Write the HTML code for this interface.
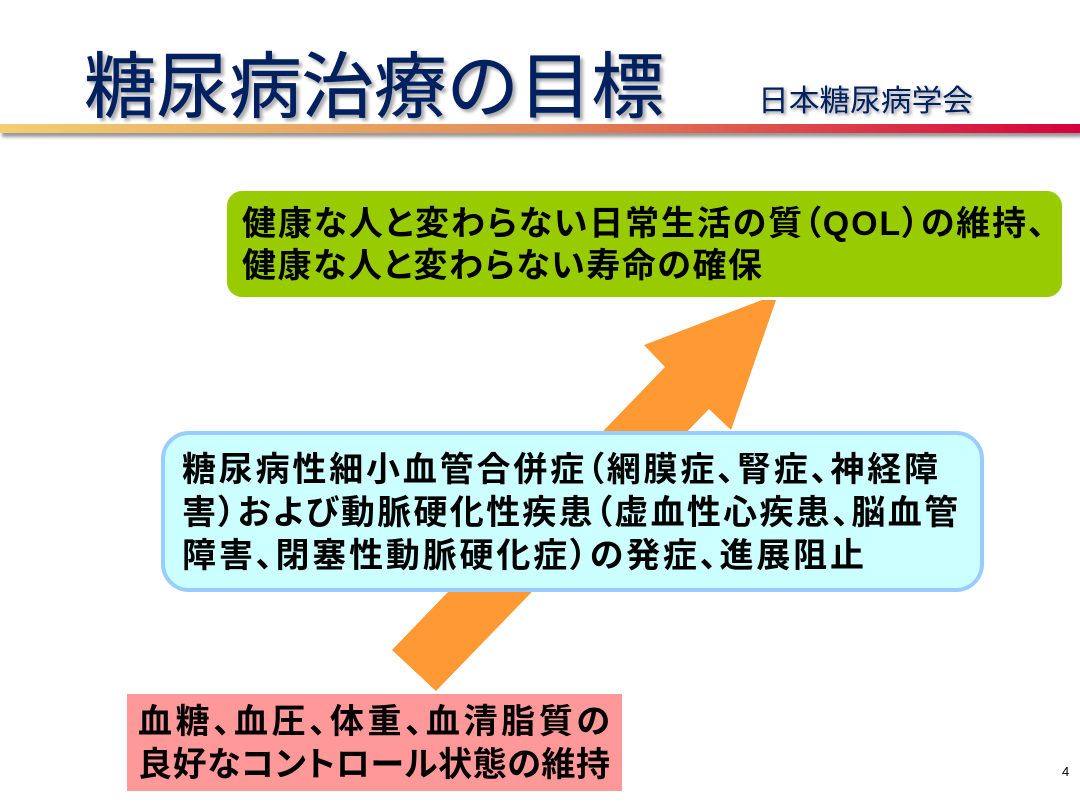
<!DOCTYPE html>
<html lang="ja">
<head>
<meta charset="utf-8">
<style>
html,body{margin:0;padding:0;background:#fff;width:1080px;height:810px;overflow:hidden}
svg{display:block}
text{font-family:"Liberation Sans","Noto Sans CJK JP",sans-serif}
.b{font-weight:700;font-size:34px;fill:#000;font-feature-settings:"palt"}
.t{stroke-linejoin:round}
</style>
</head>
<body>
<svg width="1080" height="810" viewBox="0 0 1080 810" xmlns="http://www.w3.org/2000/svg">
<defs>
<linearGradient id="g" x1="0" x2="1" y1="0" y2="0">
<stop offset="0" stop-color="#f2cf70"/>
<stop offset="0.5" stop-color="#e38a58"/>
<stop offset="1" stop-color="#d6003c"/>
</linearGradient>
<filter id="s" x="-5%" y="-30%" width="110%" height="160%"><feGaussianBlur stdDeviation="1.5"/></filter>
</defs>
<rect x="0" y="0" width="1080" height="810" fill="#fff"/>
<rect x="2" y="128" width="1080" height="9" fill="#999" filter="url(#s)"/>
<rect x="0" y="124" width="1080" height="9" fill="url(#g)"/>

<text class="t" x="87" y="115" font-size="72" fill="#aaa" filter="url(#s)" textLength="580" lengthAdjust="spacingAndGlyphs" stroke="#aaa" stroke-width="0.5">糖尿病治療の目標</text>
<text class="t" x="84" y="112" font-size="72" fill="#002060" stroke="#002060" stroke-width="0.5" textLength="580" lengthAdjust="spacingAndGlyphs">糖尿病治療の目標</text>

<text x="760" y="113" font-size="30" fill="#999" filter="url(#s)" textLength="215" lengthAdjust="spacingAndGlyphs">日本糖尿病学会</text>
<text x="758" y="111" font-size="30" fill="#002060" textLength="215" lengthAdjust="spacingAndGlyphs">日本糖尿病学会</text>

<rect x="227" y="191" width="835" height="106" rx="15" ry="15" fill="#99cc00"/>
<text class="b" x="242" y="235" textLength="803" lengthAdjust="spacing">健康な人と変わらない日常生活の質（QOL）の維持、</text>
<text class="b" x="242" y="277" textLength="520" lengthAdjust="spacing">健康な人と変わらない寿命の確保</text>

<polygon points="762,300 776,300 731,430 709,409 436,691 392,650 665,367 644,345" fill="#ff9933"/>

<rect x="163" y="433" width="819" height="157" rx="26" ry="26" fill="#ccffff" stroke="#99ccff" stroke-width="4"/>
<text class="b" x="182" y="481" textLength="756" lengthAdjust="spacing">糖尿病性細小血管合併症（網膜症、腎症、神経障</text>
<text class="b" x="182" y="524" textLength="776" lengthAdjust="spacing">害）および動脈硬化性疾患（虚血性心疾患、脳血管</text>
<text class="b" x="182" y="567" textLength="682" lengthAdjust="spacing">障害、閉塞性動脈硬化症）の発症、進展阻止</text>

<rect x="127" y="694" width="495" height="97" fill="#ff9999"/>
<text class="b" x="138" y="733" textLength="472" lengthAdjust="spacing">血糖、血圧、体重、血清脂質の</text>
<text class="b" x="138" y="776" textLength="472" lengthAdjust="spacing">良好なコントロール状態の維持</text>

<text x="1062" y="776" font-size="13" fill="#000">4</text>
</svg>
</body>
</html>
